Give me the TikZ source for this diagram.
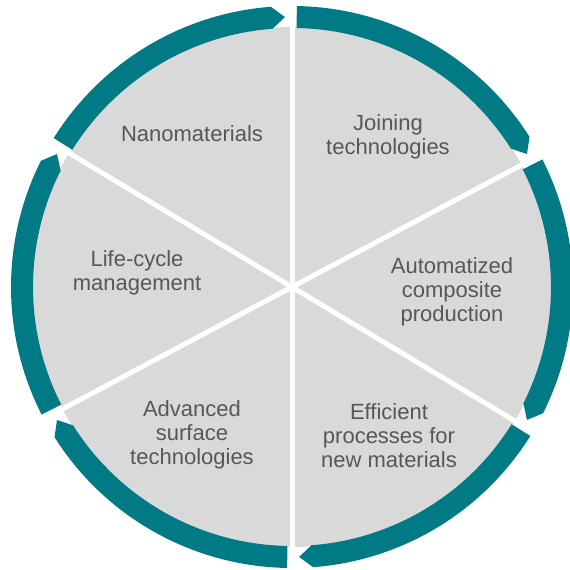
\documentclass[tikz,border=0pt]{standalone}
\usepackage{fontspec}
\setmainfont{Liberation Sans}
\definecolor{ringteal}{HTML}{007B86}
\definecolor{discgray}{HTML}{D9D9DA}
\definecolor{txtgray}{HTML}{575757}
\tikzset{
  seg/.style={fill=ringteal},
  disc/.style={fill=discgray},
  divider/.style={draw=white, line width=5pt},
  lbl/.style={font=\fontsize{22}{24}\selectfont, text=txtgray, align=center, inner sep=0pt}
}
\newcommand\ringseg[2]{%
  \fill[seg] ({#1-1}:281) arc[start angle={#1-1}, end angle={#2+4.3}, radius=281]
    -- ({#2+1.5}:270) -- ({#2+4.3}:259)
    arc[start angle={#2+4.3}, end angle={#1-1}, radius=259] -- cycle;}
\begin{document}
\begin{tikzpicture}[x=1pt,y=1pt]
\useasboundingbox (-292,-283) rectangle (278,287);
\coordinate (c) at (0,0);
\fill[disc] (c) circle[radius=260];
\coordinate (p1) at (90:262);
\coordinate (p2) at (-90:262);
\coordinate (p3) at (28:262);
\coordinate (p4) at (208:262);
\coordinate (p5) at (149:262);
\coordinate (p6) at (-31:262);
\draw[divider] (p1) -- (p2);
\draw[divider] (p3) -- (p4);
\draw[divider] (p5) -- (p6);
\ringseg{90}{28}
\ringseg{28}{-31}
\ringseg{-31}{-90}
\ringseg{-90}{-152}
\ringseg{-152}{-211}
\ringseg{-211}{-270}
\node[lbl] (nano) at (-100,153) {Nanomaterials};
\node[lbl] (join) at (96,150) {Joining\\technologies};
\node[lbl] (auto) at (160,-5) {Automatized\\composite\\production};
\node[lbl] (eff) at (97,-149) {Efficient\\processes for\\new materials};
\node[lbl] (adv) at (-100,-148) {Advanced\\surface\\technologies};
\node[lbl] (life) at (-155,14) {Life-cycle\\management};
\end{tikzpicture}
\end{document}
